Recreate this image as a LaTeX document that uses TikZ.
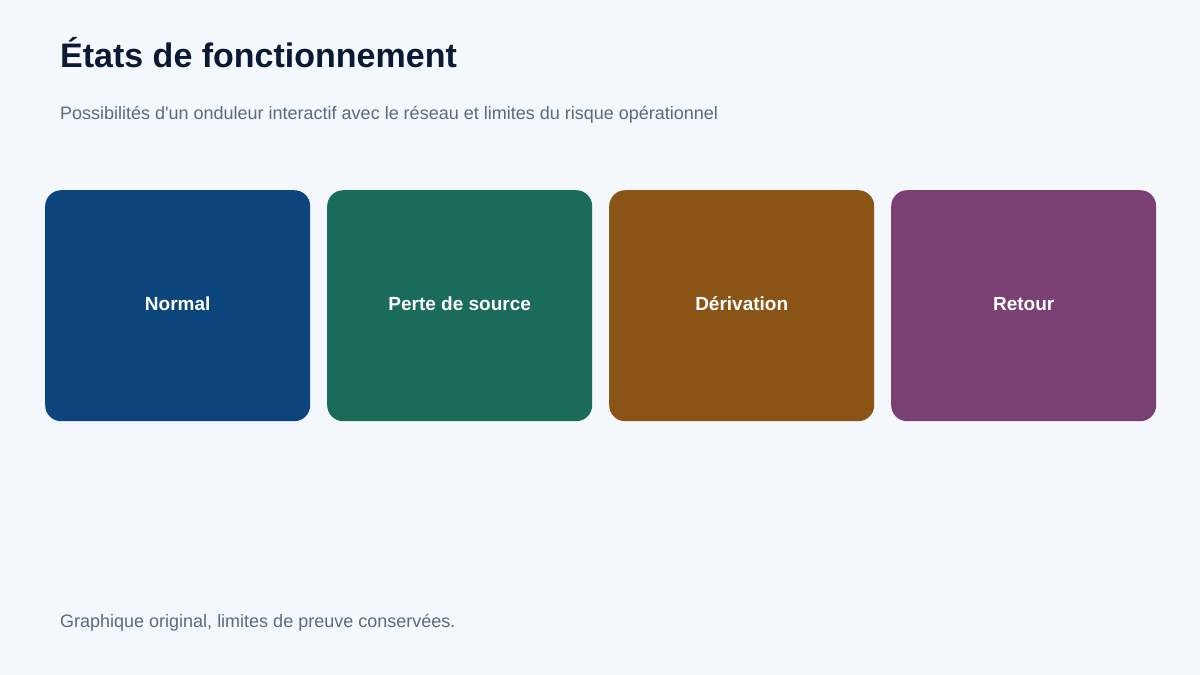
\documentclass[tikz,border=0pt]{standalone}
\usepackage{fontspec}
\setmainfont{Liberation Sans}
\newfontfamily\plainsans{Liberation Sans}
\definecolor{bg}{HTML}{F4F7FB}
\definecolor{titlec}{HTML}{0B1A33}
\definecolor{subc}{HTML}{5A6B80}
\definecolor{cblue}{HTML}{0B457C}
\definecolor{cgreen}{HTML}{1A6B5A}
\definecolor{cbrown}{HTML}{8A5416}
\definecolor{cpurple}{HTML}{7A3F73}
\begin{document}
\begin{tikzpicture}[x=1pt,y=-1pt,
  card/.style={rounded corners=16pt, minimum width=265pt, minimum height=231pt, inner sep=0pt, text height=9pt, text depth=0pt, anchor=north west, text=white, font=\fontsize{19}{23}\selectfont\bfseries},
  lbl/.style={anchor=base west, inner sep=0pt}]
\useasboundingbox (0,0) rectangle (1200,675);
\fill[bg] (0,0) rectangle (1200,675);
\node[lbl, text=titlec, font=\fontsize{34}{40}\selectfont\bfseries] (title) at (60,67) {États de fonctionnement};
\node[lbl, text=subc, font=\plainsans\fontsize{18}{22}\selectfont] (sub) at (60,119) {Possibilités d'un onduleur interactif avec le réseau et limites du risque opérationnel};
\node[card, fill=cblue] (n1) at (45,190) {Normal};
\node[card, fill=cgreen] (n2) at (327,190) {Perte de source};
\node[card, fill=cbrown] (n3) at (609,190) {Dérivation};
\node[card, fill=cpurple] (n4) at (891,190) {Retour};
\node[lbl, text=subc, font=\fontsize{18}{22}\selectfont] (foot) at (60,627) {Graphique original, limites de preuve conservées.};
\end{tikzpicture}
\end{document}
